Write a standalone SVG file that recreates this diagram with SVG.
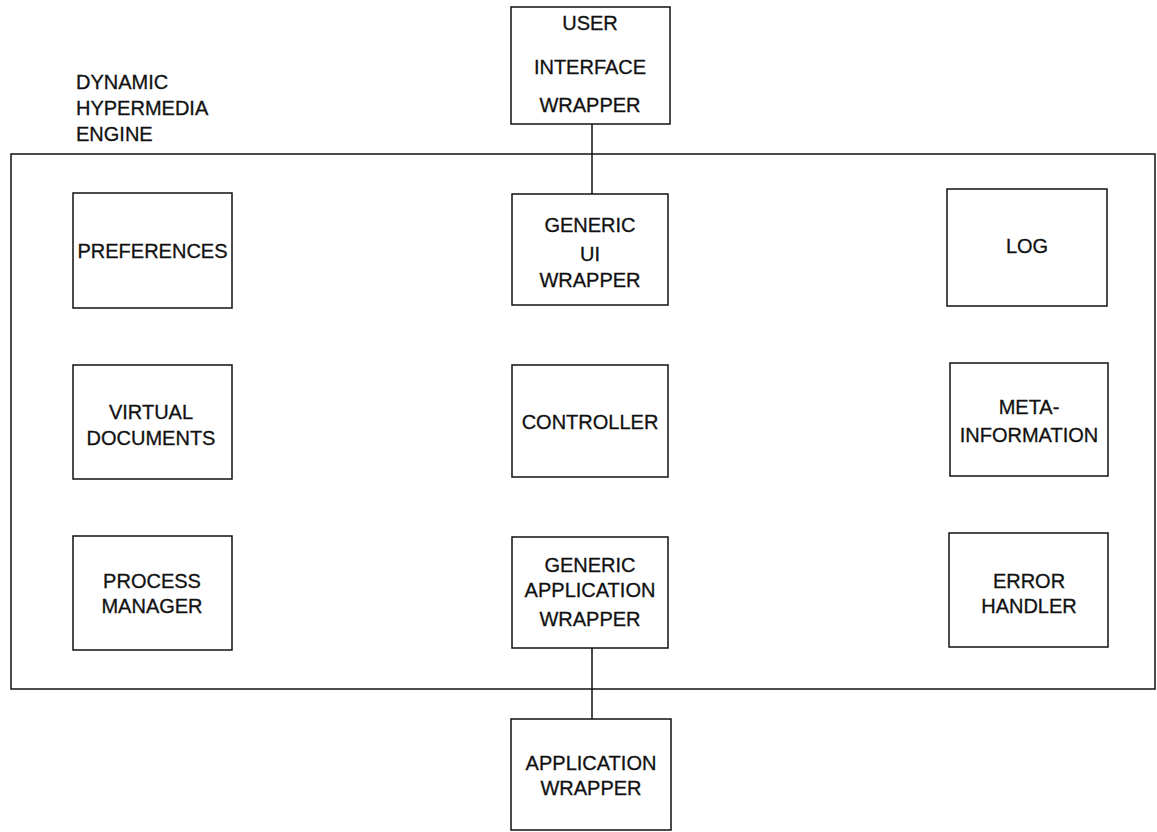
<svg xmlns="http://www.w3.org/2000/svg" width="1157" height="832" viewBox="0 0 1157 832">
<style>
.box{fill:none;stroke:#111;stroke-width:1.5}
.t{font-family:"Liberation Sans",Arial,sans-serif;font-size:20px;fill:#111;stroke:#111;stroke-width:0.3;text-anchor:middle}
.l{font-family:"Liberation Sans",Arial,sans-serif;font-size:20px;fill:#111;stroke:#111;stroke-width:0.3}
.c{stroke:#111;stroke-width:1.5;fill:none}
</style>
<rect width="1157" height="832" fill="#fff"/>
<g id="engine">
<rect class="box" x="11" y="154" width="1144" height="535"/>
<text class="l" x="76" y="89">DYNAMIC</text>
<text class="l" x="76" y="115">HYPERMEDIA</text>
<text class="l" x="76" y="141">ENGINE</text>
</g>
<g id="connectors">
<line class="c" x1="592" y1="124" x2="592" y2="194"/>
<line class="c" x1="592" y1="648" x2="592" y2="719"/>
</g>
<g id="user-interface-wrapper">
<rect class="box" x="511" y="7" width="159" height="117"/>
<text class="t" x="590" y="30">USER</text>
<text class="t" x="590" y="74">INTERFACE</text>
<text class="t" x="590" y="112">WRAPPER</text>
</g>
<g id="preferences">
<rect class="box" x="73" y="193" width="159" height="115"/>
<text class="t" x="152.5" y="258">PREFERENCES</text>
</g>
<g id="generic-ui-wrapper">
<rect class="box" x="512" y="194" width="156" height="111"/>
<text class="t" x="590" y="232">GENERIC</text>
<text class="t" x="590" y="261">UI</text>
<text class="t" x="590" y="287">WRAPPER</text>
</g>
<g id="log">
<rect class="box" x="947" y="189" width="160" height="117"/>
<text class="t" x="1027" y="253">LOG</text>
</g>
<g id="virtual-documents">
<rect class="box" x="73" y="365" width="159" height="114"/>
<text class="t" x="151" y="419">VIRTUAL</text>
<text class="t" x="151" y="445">DOCUMENTS</text>
</g>
<g id="controller">
<rect class="box" x="512" y="365" width="156" height="112"/>
<text class="t" x="590" y="429">CONTROLLER</text>
</g>
<g id="meta-information">
<rect class="box" x="950" y="363" width="158" height="113"/>
<text class="t" x="1029" y="414">META-</text>
<text class="t" x="1029" y="442">INFORMATION</text>
</g>
<g id="process-manager">
<rect class="box" x="73" y="536" width="159" height="114"/>
<text class="t" x="152" y="588">PROCESS</text>
<text class="t" x="152" y="613">MANAGER</text>
</g>
<g id="generic-application-wrapper">
<rect class="box" x="512" y="537" width="156" height="111"/>
<text class="t" x="590" y="572">GENERIC</text>
<text class="t" x="590" y="597">APPLICATION</text>
<text class="t" x="590" y="626">WRAPPER</text>
</g>
<g id="error-handler">
<rect class="box" x="949" y="533" width="159" height="114"/>
<text class="t" x="1029" y="588">ERROR</text>
<text class="t" x="1029" y="613">HANDLER</text>
</g>
<g id="application-wrapper">
<rect class="box" x="511" y="719" width="160" height="111"/>
<text class="t" x="591" y="770">APPLICATION</text>
<text class="t" x="591" y="795">WRAPPER</text>
</g>
</svg>
